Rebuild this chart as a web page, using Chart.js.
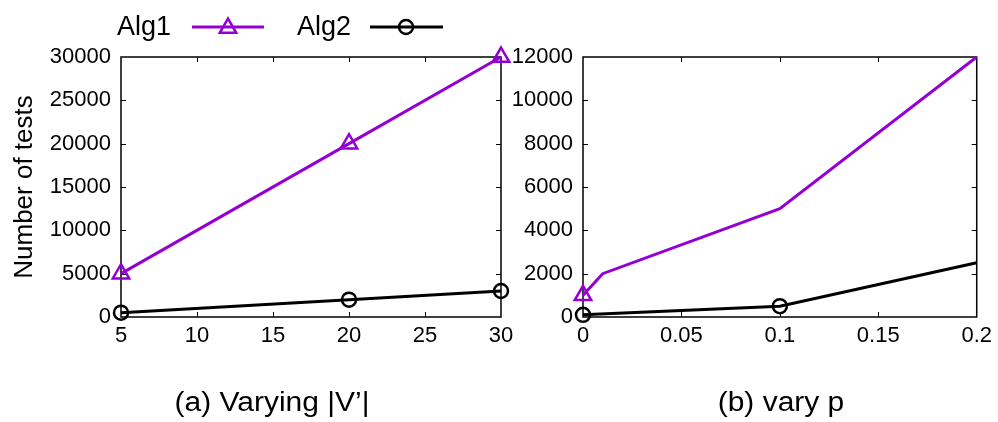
<!DOCTYPE html>
<html><head><meta charset="utf-8">
<script src="https://cdn.jsdelivr.net/npm/chart.js@4/dist/chart.umd.min.js"></script>
<style>
html,body{margin:0;padding:0;background:#fff;}
#wrap{position:relative;width:998px;height:422px;overflow:hidden;}
canvas{position:absolute;left:0;top:0;}
.cap{position:absolute;font-family:"Liberation Sans",Arial,sans-serif;font-size:27px;line-height:27px;white-space:nowrap;transform:translateX(-50%) scaleX(1.11);color:#000;top:389px;}
</style></head><body>
<div id="wrap">
<canvas id="c1" width="998" height="422"></canvas>
<canvas id="c2" width="998" height="422"></canvas>
<div class="cap" style="left:272px">(a) Varying |V’|</div>
<div class="cap" style="left:781px">(b) vary p</div>
</div>
<script>
// ---- data ----
const seriesNames = ['Alg1', 'Alg2'];
const vSizes = [5, 20, 30];
const alg1ByV = [5000, 20000, 30000];
const alg2ByV = [500, 2000, 3000];
const pAlg1 = [0, 0.01, 0.1, 0.2];
const alg1ByP = [1000, 2000, 5000, 12000];
const pAlg2 = [0, 0.1, 0.2];
const alg2ByP = [100, 500, 2500];
const yTitle = 'Number of tests';

// ---- style ----
const FONT = '"Liberation Sans", Arial, sans-serif';
const PURPLE = '#9400d3';
const BLACK = '#000000';

function pts(xs, ys) { return xs.map((x, i) => ({x: x, y: ys[i]})); }

const framePlugin = {
  id: 'frame',
  beforeDatasetsDraw(chart) {
    const ctx = chart.ctx, a = chart.chartArea;
    const xs = chart.scales.x, ys = chart.scales.y;
    ctx.save();
    ctx.strokeStyle = '#000';
    ctx.lineWidth = 1.5;
    ctx.strokeRect(a.left, a.top, a.right - a.left, a.bottom - a.top);
    ctx.lineWidth = 1;
    const L = 5;
    ctx.beginPath();
    xs.ticks.forEach(t => {
      const p = Math.round(xs.getPixelForValue(t.value)) + 0.5;
      if (p <= a.left + 1 || p >= a.right - 1) return;
      ctx.moveTo(p, a.bottom); ctx.lineTo(p, a.bottom - L);
      ctx.moveTo(p, a.top); ctx.lineTo(p, a.top + L);
    });
    ys.ticks.forEach(t => {
      const p = Math.round(ys.getPixelForValue(t.value)) + 0.5;
      if (p <= a.top + 1 || p >= a.bottom - 1) return;
      ctx.moveTo(a.left, p); ctx.lineTo(a.left + L, p);
      ctx.moveTo(a.right, p); ctx.lineTo(a.right - L, p);
    });
    ctx.stroke();
    ctx.restore();
  }
};

function drawMarker(ctx, style, x, y, r) {
  ctx.beginPath();
  if (style === 'triangle') {
    let rad = 0;
    ctx.moveTo(x + Math.sin(rad) * r, y - Math.cos(rad) * r);
    rad += 2 * Math.PI / 3;
    ctx.lineTo(x + Math.sin(rad) * r, y - Math.cos(rad) * r);
    rad += 2 * Math.PI / 3;
    ctx.lineTo(x + Math.sin(rad) * r, y - Math.cos(rad) * r);
    ctx.closePath();
  } else {
    ctx.arc(x, y, r, 0, Math.PI * 2);
  }
  ctx.stroke();
}

const legendPlugin = {
  id: 'gpLegend',
  afterDraw(chart) {
    const ctx = chart.ctx;
    const items = [
      {textRight: 171, l0: 192, l1: 264, mx: 228},
      {textRight: 351, l0: 370, l1: 443, mx: 406}
    ];
    ctx.save();
    chart.data.datasets.forEach((ds, i) => {
      const it = items[i];
      const y = 27;
      ctx.font = '27px ' + FONT;
      ctx.fillStyle = '#000';
      ctx.textAlign = 'right';
      ctx.textBaseline = 'middle';
      ctx.fillText(ds.label, it.textRight, y + 1);
      ctx.strokeStyle = ds.borderColor;
      ctx.lineWidth = ds.borderWidth;
      ctx.beginPath();
      ctx.moveTo(it.l0, y); ctx.lineTo(it.l1, y);
      ctx.stroke();
      ctx.lineWidth = ds.pointBorderWidth;
      drawMarker(ctx, ds.pointStyle, it.mx, ds.pointStyle === 'triangle' ? y + 1 : y, ds.legendRadius);
    });
    ctx.restore();
  }
};

function tickFont() { return {family: FONT, size: 22}; }

function makeChart(id, cfg) {
  return new Chart(document.getElementById(id), {
    type: 'line',
    data: {datasets: cfg.datasets},
    options: {
      responsive: false,
      animation: false,
      layout: {padding: cfg.padding},
      plugins: {legend: {display: false}, tooltip: {enabled: false}, title: {display: false}},
      scales: {
        x: {
          type: 'linear', min: cfg.xMin, max: cfg.xMax,
          grid: {display: false, drawTicks: false}, border: {display: false},
          ticks: {stepSize: cfg.xStep, font: tickFont(), color: '#000', padding: 6, maxRotation: 0,
                  callback: v => String(+Number(v).toFixed(2))},
          afterFit(s) { s.height = 40; }
        },
        y: {
          min: 0, max: cfg.yMax,
          grid: {display: false, drawTicks: false}, border: {display: false},
          ticks: {stepSize: cfg.yStep, font: tickFont(), color: '#000', padding: 10,
                  callback: v => String(v)},
          title: cfg.yTitle ? {display: true, text: cfg.yTitle, color: '#000',
                  font: {family: FONT, size: 26}, padding: {top: 0, bottom: 0}} : {display: false},
          afterFit(s) { s.width = cfg.yWidth; }
        }
      }
    },
    plugins: cfg.plugins
  });
}

function ds1(data, radii) {
  return {label: seriesNames[0], data: data, borderColor: PURPLE, backgroundColor: 'rgba(0,0,0,0)',
    borderWidth: 3, pointStyle: 'triangle', pointRadius: radii, pointBorderWidth: 2.5,
    pointBorderColor: PURPLE, pointBackgroundColor: 'rgba(0,0,0,0)', legendRadius: 9.5,
    tension: 0, clip: false};
}
function ds2(data, radii) {
  return {label: seriesNames[1], data: data, borderColor: BLACK, backgroundColor: 'rgba(0,0,0,0)',
    borderWidth: 3, pointStyle: 'circle', pointRadius: radii, pointBorderWidth: 2.5,
    pointBorderColor: BLACK, pointBackgroundColor: 'rgba(0,0,0,0)', legendRadius: 7,
    tension: 0, clip: false};
}

makeChart('c1', {
  datasets: [ds1(pts(vSizes, alg1ByV), 9.5), ds2(pts(vSizes, alg2ByV), 7)],
  xMin: 5, xMax: 30, xStep: 5, yMax: 30000, yStep: 5000,
  padding: {left: 9, right: 497, top: 57, bottom: 65},
  yWidth: 112, yTitle: yTitle,
  plugins: [framePlugin, legendPlugin]
});

makeChart('c2', {
  datasets: [
    ds1(pts(pAlg1, alg1ByP), ctx => ctx.dataIndex === 0 ? 9.5 : 0),
    ds2(pts(pAlg2, alg2ByP), ctx => ctx.dataIndex < 2 ? 7 : 0)
  ],
  xMin: 0, xMax: 0.2, xStep: 0.05, yMax: 12000, yStep: 2000,
  padding: {left: 503, right: 20, top: 57, bottom: 65},
  yWidth: 80, yTitle: null,
  plugins: [framePlugin]
});
</script>
</body></html>
